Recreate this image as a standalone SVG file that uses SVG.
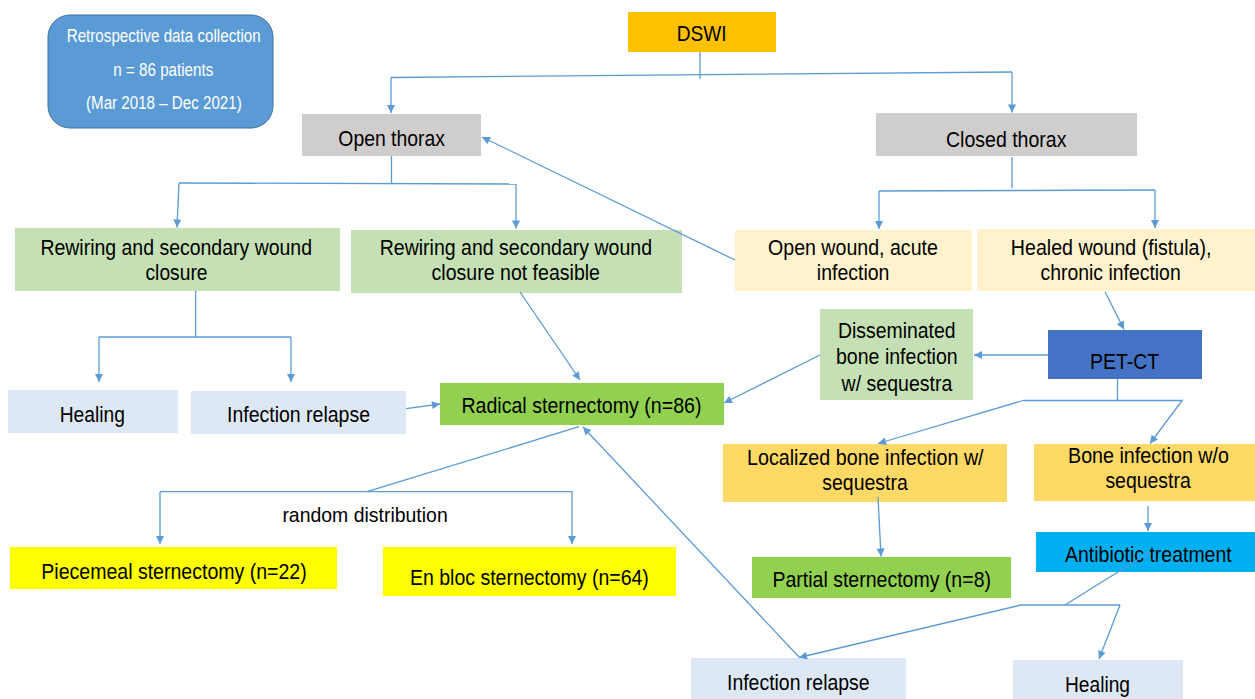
<svg xmlns="http://www.w3.org/2000/svg" width="1255" height="699" viewBox="0 0 1255 699">
<defs>
<marker id="ah" viewBox="0 0 10 10" refX="10" refY="5" markerWidth="9" markerHeight="8" markerUnits="userSpaceOnUse" orient="auto">
<path d="M0,0 L10,5 L0,10 z" fill="#5b9bd5"/>
</marker>
<style>
text{font-family:"Liberation Sans",Arial,sans-serif;font-size:22.5px;fill:#000}
.s{font-size:18px;fill:#fff}
.c{fill:none;stroke:#5b9bd5;stroke-width:1.3}
.a{marker-end:url(#ah)}
.grey{fill:#d0cecd}
.lg{fill:#c5e0b4}
.lb{fill:#dee8f4}
.cr{fill:#fff2cc}
.og{fill:#ffd966}
.gr{fill:#92d050}
.ye{fill:#ffff00}
</style>
</defs>
<rect width="1255" height="699" fill="#fff"/>
<g id="retro"><rect x="48" y="15" width="225" height="113" rx="22" fill="#5b9bd5" stroke="#41719c"/>
<text class="s" x="66.7" y="42" textLength="194" lengthAdjust="spacingAndGlyphs">Retrospective data collection</text>
<text class="s" x="113.3" y="76" textLength="100" lengthAdjust="spacingAndGlyphs">n = 86 patients</text>
<text class="s" x="86" y="109" textLength="155.7" lengthAdjust="spacingAndGlyphs">(Mar 2018 – Dec 2021)</text></g>
<g id="dswi"><rect x="628" y="12" width="148" height="40" fill="#ffc000"/><text x="676.7" y="40.5" textLength="50" lengthAdjust="spacingAndGlyphs">DSWI</text></g>
<g id="open"><rect class="grey" x="302" y="114" width="179" height="42"/><text x="338.3" y="145.7" textLength="106.7" lengthAdjust="spacingAndGlyphs">Open thorax</text></g>
<g id="closed"><rect class="grey" x="876" y="113" width="261" height="43"/><text x="946" y="146.7" textLength="120.4" lengthAdjust="spacingAndGlyphs">Closed thorax</text></g>
<g id="rew1"><rect class="lg" x="15" y="228" width="325" height="63"/>
<text x="40.4" y="255" textLength="271.6" lengthAdjust="spacingAndGlyphs">Rewiring and secondary wound</text>
<text x="145.5" y="280" textLength="62" lengthAdjust="spacingAndGlyphs">closure</text></g>
<g id="rew2"><rect class="lg" x="351" y="230" width="331" height="63"/>
<text x="379.7" y="255" textLength="272.3" lengthAdjust="spacingAndGlyphs">Rewiring and secondary wound</text>
<text x="431.6" y="280" textLength="168.4" lengthAdjust="spacingAndGlyphs">closure not feasible</text></g>
<g id="openwound"><rect class="cr" x="735" y="230" width="237" height="61"/>
<text x="768" y="255" textLength="169.9" lengthAdjust="spacingAndGlyphs">Open wound, acute</text>
<text x="816.8" y="280" textLength="72.6" lengthAdjust="spacingAndGlyphs">infection</text></g>
<g id="healed"><rect class="cr" x="977" y="229" width="278" height="62"/>
<text x="1010.8" y="255" textLength="200.7" lengthAdjust="spacingAndGlyphs">Healed wound (fistula),</text>
<text x="1040.5" y="280" textLength="140.2" lengthAdjust="spacingAndGlyphs">chronic infection</text></g>
<g id="dissem"><rect class="lg" x="820" y="309" width="153" height="91"/>
<text x="838" y="338.3" textLength="117.6" lengthAdjust="spacingAndGlyphs">Disseminated</text>
<text x="836" y="364.3" textLength="121.7" lengthAdjust="spacingAndGlyphs">bone infection</text>
<text x="841.6" y="390.7" textLength="110.8" lengthAdjust="spacingAndGlyphs">w/ sequestra</text></g>
<g id="petct"><rect x="1048" y="330" width="154" height="49" fill="#4472c4"/>
<text x="1090" y="369.3" textLength="69" lengthAdjust="spacingAndGlyphs">PET-CT</text></g>
<g id="healingL"><rect class="lb" x="8" y="390" width="170" height="43"/>
<text x="59.7" y="421.7" textLength="65.3" lengthAdjust="spacingAndGlyphs">Healing</text></g>
<g id="relapseL"><rect class="lb" x="191" y="391" width="215" height="43"/>
<text x="227" y="422" textLength="143" lengthAdjust="spacingAndGlyphs">Infection relapse</text></g>
<g id="radical"><rect class="gr" x="440" y="383" width="284" height="42"/>
<text x="461.4" y="413" textLength="240.1" lengthAdjust="spacingAndGlyphs">Radical sternectomy (n=86)</text></g>
<g id="randomlabel"><text x="282.4" y="522.3" textLength="165.3" lengthAdjust="spacingAndGlyphs" style="font-size:21px">random distribution</text></g>
<g id="piecemeal"><rect class="ye" x="10" y="547" width="327" height="42"/>
<text x="41.3" y="579.3" textLength="265.4" lengthAdjust="spacingAndGlyphs">Piecemeal sternectomy (n=22)</text></g>
<g id="enbloc"><rect class="ye" x="383" y="547" width="293" height="49"/>
<text x="410" y="585" textLength="238.8" lengthAdjust="spacingAndGlyphs">En bloc sternectomy (n=64)</text></g>
<g id="localized"><rect class="og" x="723" y="444" width="284" height="58"/>
<text x="747" y="465" textLength="236.6" lengthAdjust="spacingAndGlyphs">Localized bone infection w/</text>
<text x="822.3" y="490" textLength="85.4" lengthAdjust="spacingAndGlyphs">sequestra</text></g>
<g id="bonewo"><rect class="og" x="1034" y="444" width="221" height="57"/>
<text x="1068" y="463.3" textLength="161" lengthAdjust="spacingAndGlyphs">Bone infection w/o</text>
<text x="1105.4" y="488.3" textLength="85.4" lengthAdjust="spacingAndGlyphs">sequestra</text></g>
<g id="partial"><rect class="gr" x="752" y="557" width="259" height="41"/>
<text x="772.4" y="586.7" textLength="218.6" lengthAdjust="spacingAndGlyphs">Partial sternectomy (n=8)</text></g>
<g id="antibiotic"><rect x="1036" y="532" width="219" height="40" fill="#00b0f0"/>
<text x="1065" y="561.7" textLength="166.7" lengthAdjust="spacingAndGlyphs">Antibiotic treatment</text></g>
<g id="relapseB"><rect class="lb" x="691" y="658" width="215" height="41"/>
<text x="727" y="690" textLength="142.6" lengthAdjust="spacingAndGlyphs">Infection relapse</text></g>
<g id="healingB"><rect class="lb" x="1013" y="660" width="170" height="39"/>
<text x="1065" y="691.7" textLength="65" lengthAdjust="spacingAndGlyphs">Healing</text></g>
<g id="connectors">
<path class="c" d="M700,52 V79"/>
<path class="c" d="M391,77.5 L1012,72"/>
<path class="c a" d="M391,77.5 V113"/>
<path class="c a" d="M1012,72 V112.5"/>
<path class="c" d="M391.5,156 V184"/>
<path class="c" d="M179,183 L516,184"/>
<path class="c a" d="M179,183 L177,227.5"/>
<path class="c a" d="M516,184 V228.5"/>
<path class="c" d="M1012,157 V188"/>
<path class="c" d="M879,191 L1155,190"/>
<path class="c a" d="M879,191 V229"/>
<path class="c a" d="M1155,190 V228"/>
<path class="c a" d="M735,260 L482,137"/>
<path class="c" d="M195.6,291 V337"/>
<path class="c" d="M99,337 H291"/>
<path class="c a" d="M99,337 V382"/>
<path class="c a" d="M291,337 V382"/>
<path class="c a" d="M520,292 L580,380"/>
<path class="c a" d="M406,408.7 L440,404"/>
<path class="c a" d="M1105,291.7 L1124,329.5"/>
<path class="c a" d="M1048,355 H974"/>
<path class="c a" d="M820,355 L724,403"/>
<path class="c" d="M1117.5,379 V400"/>
<path class="c" d="M1023,400.5 H1182.5"/>
<path class="c a" d="M1023,400.5 L878,443.5"/>
<path class="c a" d="M1182.5,400 L1150,443.5"/>
<path class="c" d="M579,426.7 L367,491.7"/>
<path class="c" d="M160,491.7 H573"/>
<path class="c a" d="M160,491.7 V544"/>
<path class="c a" d="M572,492 V544"/>
<path class="c a" d="M878,497 L881,556.5"/>
<path class="c a" d="M1148,506 V531"/>
<path class="c" d="M1150,552 L1065,605"/>
<path class="c" d="M1021,605 H1120"/>
<path class="c a" d="M1021,605 L799,657.5"/>
<path class="c a" d="M1120,605 L1099,659"/>
<path class="c a" d="M799,657 L583,427"/>
</g>
</svg>
